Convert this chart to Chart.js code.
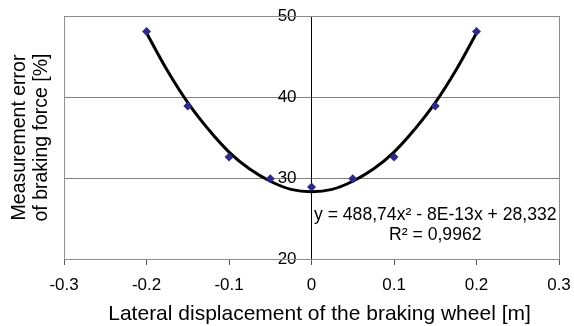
<!DOCTYPE html>
<html>
<head>
<meta charset="utf-8">
<script src="https://cdn.jsdelivr.net/npm/chart.js@4"></script>
<style>
  html, body { margin: 0; padding: 0; background: #fff; }
  #wrap { width: 574px; height: 326px; }
</style>
</head>
<body>
<div id="wrap"><canvas id="chart" width="574" height="326"></canvas></div>
<script>
const displacement = [-0.2, -0.15, -0.1, -0.05, 0, 0.05, 0.1, 0.15, 0.2];
const measError = [48.1, 38.9, 32.6, 29.9, 28.9, 29.9, 32.6, 38.9, 48.1];

// polynomial trendline as drawn in the reference
const trendX = [-0.2, -0.175, -0.15, -0.125, -0.1, -0.075, -0.05, -0.025, 0, 0.025, 0.05, 0.075, 0.1, 0.125, 0.15, 0.175, 0.2];
const trendY = [47.9, 43.3, 39.3, 36.0, 33.2, 31.1, 29.6, 28.6, 28.3, 28.6, 29.6, 31.1, 33.2, 36.0, 39.3, 43.3, 47.9];

const xTicks = [-0.3, -0.2, -0.1, 0, 0.1, 0.2, 0.3];
const yTicks = [20, 30, 40, 50];
const xTitle = 'Lateral displacement of the braking wheel [m]';
const equationText = ['y = 488,74x\u00B2 - 8E-13x + 28,332', 'R\u00B2 = 0,9962'];

const FONT = "'Liberation Sans', Arial, sans-serif";

// grey frame round the plot area, equation label and x title
const frame = {
    id: 'frame',
    beforeDatasetsDraw(chart) {
        const { ctx, chartArea: a } = chart;
        ctx.save();
        ctx.strokeStyle = '#8c8c8c';
        ctx.lineWidth = 1;
        ctx.strokeRect(a.left + 0.5, a.top + 0.5, a.right - a.left, a.bottom - a.top);
        ctx.restore();
    },
    afterDatasetsDraw(chart) {
        const { ctx, chartArea: a } = chart;
        const xs = chart.scales.x;
        const ys = chart.scales.y;
        ctx.save();
        ctx.fillStyle = '#000';
        ctx.font = '17.6px ' + FONT;
        ctx.textAlign = 'center';
        ctx.textBaseline = 'middle';
        const cx = xs.getPixelForValue(0.15);
        ctx.fillText(equationText[0], cx, ys.getPixelForValue(25.4));
        ctx.fillText(equationText[1], cx, ys.getPixelForValue(23.0));
        // axis title sits a little right of the plot centre in the original
        ctx.font = '21px ' + FONT;
        ctx.fillText(xTitle, (a.left + a.right) / 2 + 8, 314.5);
        ctx.restore();
    }
};

new Chart(document.getElementById('chart'), {
    type: 'scatter',
    data: {
        datasets: [
            {
                label: 'trend',
                type: 'line',
                data: trendX.map((x, i) => ({ x, y: trendY[i] })),
                borderColor: '#000',
                borderWidth: 3,
                pointRadius: 0,
                tension: 0.4,
                fill: false,
                order: 2
            },
            {
                label: 'data',
                data: displacement.map((x, i) => ({ x, y: measError[i] })),
                pointStyle: 'rectRot',
                pointRadius: 4.5,
                backgroundColor: '#2b2a86',
                borderColor: '#2b2a86',
                borderWidth: 0,
                order: 1
            }
        ]
    },
    options: {
        responsive: false,
        animation: false,
        layout: { padding: { left: 0, right: 15, top: 16, bottom: 0 } },
        plugins: { legend: { display: false }, tooltip: { enabled: false } },
        scales: {
            x: {
                type: 'linear',
                min: -0.3, max: 0.3,
                afterBuildTicks: s => { s.ticks = xTicks.map(v => ({ value: v })); },
                afterFit: s => { s.height = 67; s.paddingLeft = 0; s.paddingRight = 0; },
                grid: { display: true, drawOnChartArea: false, drawTicks: true, tickLength: 6, color: '#555' },
                border: { display: true, color: '#8c8c8c' },
                ticks: {
                    color: '#000', font: { family: FONT, size: 17 }, padding: 10,
                    callback: v => (v === 0 ? '0' : v.toFixed(1))
                },
                title: { display: false }
            },
            y: {
                type: 'linear',
                position: 'center',
                min: 20, max: 50,
                afterBuildTicks: s => { s.ticks = yTicks.map(v => ({ value: v })); },
                grid: { display: true, drawOnChartArea: true, drawTicks: true, tickLength: 13, color: '#808080' },
                border: { display: true, color: '#000' },
                ticks: { color: '#000', font: { family: FONT, size: 17 }, padding: 2 }
            },
            yTitle: {
                type: 'linear',
                position: 'left',
                min: 20, max: 50,
                grid: { display: false, drawTicks: false },
                border: { display: false },
                ticks: { display: false },
                title: {
                    display: true,
                    text: ['Measurement error', 'of braking force [%]'],
                    color: '#000', font: { family: FONT, size: 19.5, lineHeight: 1.13 }, padding: { top: 8.5, bottom: 11.5 }
                }
            }
        }
    },
    plugins: [frame]
});
</script>
</body>
</html>
